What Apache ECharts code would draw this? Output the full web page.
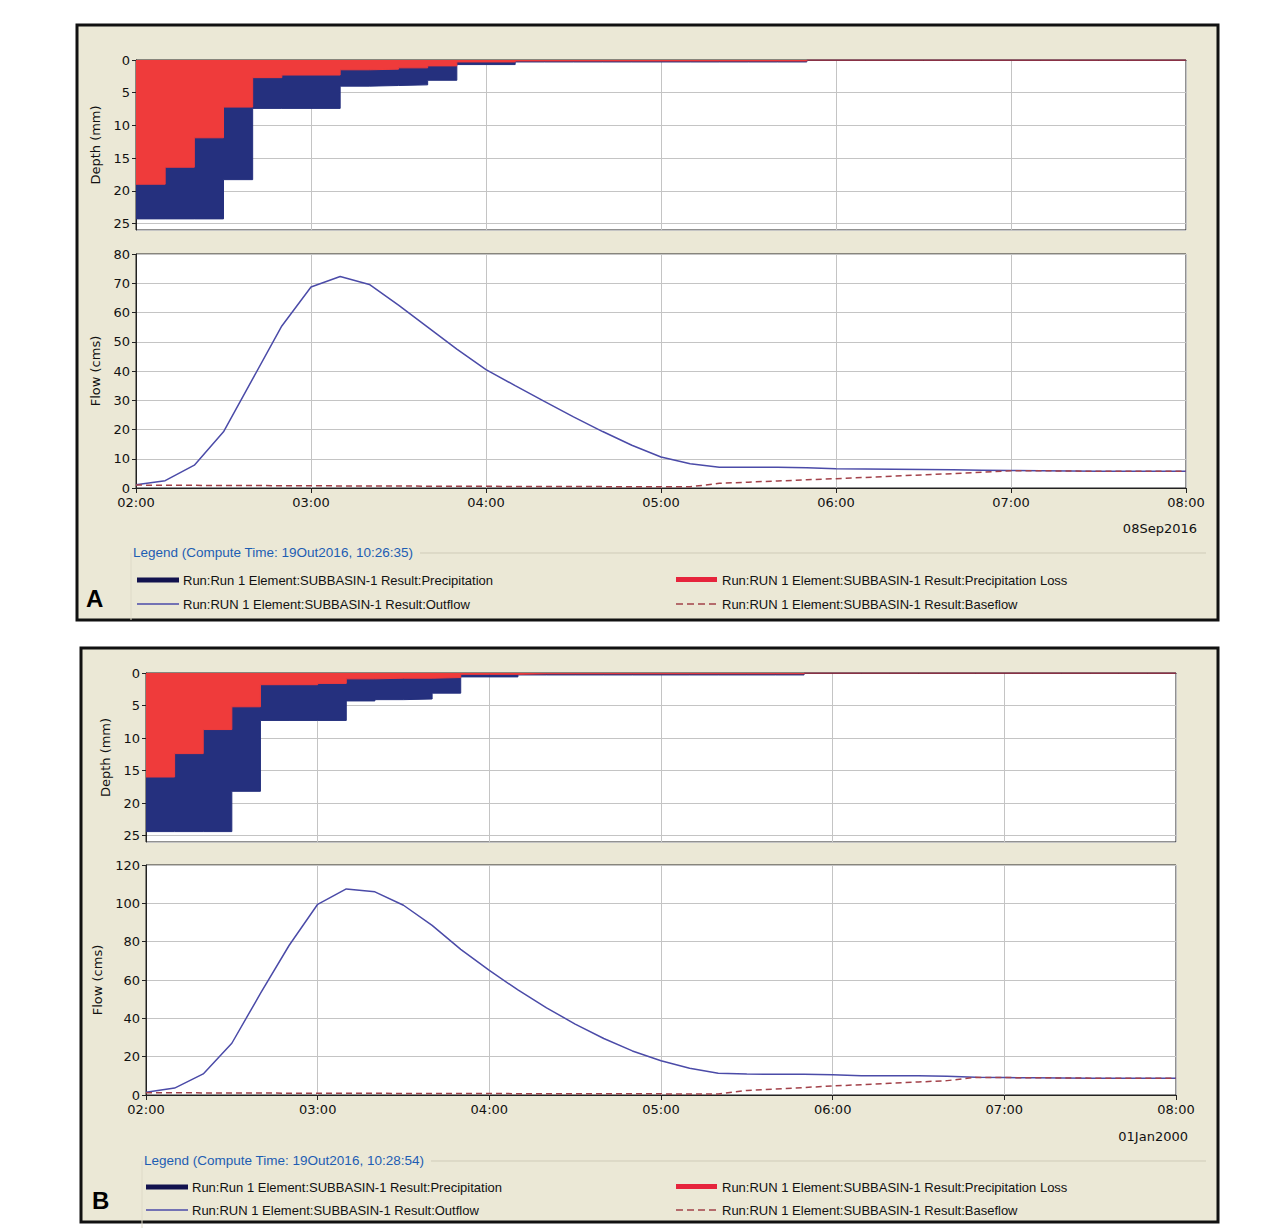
<!DOCTYPE html>
<html>
<head>
<meta charset="utf-8">
<script src="https://cdn.jsdelivr.net/npm/echarts@6.0.0/dist/echarts.min.js"></script>
<style>
html,body{margin:0;padding:0;background:#fff;}
#c{width:1282px;height:1231px;}
</style>
</head>
<body>
<div id="c"></div>
<script>
// ---- data ----
const times = ['02:00','02:10','02:20','02:30','02:40','02:50','03:00','03:10','03:20','03:30','03:40','03:50',
  '04:00','04:10','04:20','04:30','04:40','04:50','05:00','05:10','05:20','05:30','05:40','05:50',
  '06:00','06:10','06:20','06:30','06:40','06:50','07:00','07:10','07:20','07:30','07:40','07:50','08:00'];
const xTicks = ['02:00','03:00','04:00','05:00','06:00','07:00','08:00'];

// precipitation per 10-min interval (interval start = times[i]), mm
const precipA = [24.3,24.3,24.3,18.3,7.4,7.4,7.4,4.0,3.9,3.8,3.1,0.7,0.7,0.3,0.3,0.3,0.3,0.3,0.3,0.3,0.3,0.3,0.3,0,0,0,0,0,0,0,0,0,0,0,0,0];
const lossA   = [19.0,16.4,11.9,7.2,2.7,2.3,2.3,1.5,1.4,1.2,0.9,0.3,0.3,0.15,0.15,0.15,0.15,0.15,0.15,0.15,0.15,0.15,0.15,0,0,0,0,0,0,0,0,0,0,0,0,0];
const outflowA = [1.1,2.5,7.8,19.2,37.3,55.4,68.7,72.3,69.6,62.5,55.0,47.5,40.5,35.0,29.6,24.3,19.3,14.6,10.6,8.3,7.1,7.1,7.1,6.9,6.6,6.5,6.4,6.3,6.2,6.1,6.0,5.9,5.8,5.7,5.7,5.7,5.7];
const baseflowA = [1.0,0.95,0.9,0.87,0.83,0.8,0.76,0.72,0.69,0.66,0.63,0.6,0.57,0.54,0.52,0.5,0.47,0.45,0.43,0.41,1.6,2.0,2.4,2.8,3.2,3.6,4.1,4.5,4.9,5.4,5.9,5.9,5.8,5.7,5.7,5.7,5.7];

const precipB = [24.4,24.4,24.4,18.2,7.3,7.3,7.3,4.3,4.1,4.0,3.1,0.6,0.6,0.3,0.3,0.3,0.3,0.3,0.3,0.3,0.3,0.3,0.3,0,0,0,0,0,0,0,0,0,0,0,0,0];
const lossB   = [16.0,12.4,8.7,5.2,1.8,1.8,1.6,0.9,0.8,0.8,0.7,0.2,0.2,0.12,0.12,0.12,0.12,0.12,0.12,0.12,0.12,0.12,0.12,0,0,0,0,0,0,0,0,0,0,0,0,0];
const outflowB = [1.4,3.6,11.0,27.0,53.0,78.0,99.5,107.5,106.0,99.0,88.5,76.0,65.0,54.8,45.5,37.0,29.5,23.0,17.9,14.0,11.3,10.9,10.8,10.8,10.6,10.1,10.0,10.0,9.8,9.2,9.1,9.0,8.9,8.8,8.8,8.7,8.7];
const baseflowB = [1.2,1.15,1.1,1.05,1.0,0.97,0.93,0.9,0.86,0.83,0.8,0.77,0.74,0.71,0.68,0.66,0.63,0.61,0.59,0.57,0.55,2.4,3.1,3.9,4.7,5.4,6.1,6.8,7.5,9.2,9.1,9.0,8.9,8.8,8.8,8.7,8.7];

const depthTicksMax = 26;
const flowMaxA = 80, flowMaxB = 120;

// ---- helpers ----
function toMin(s){ const p = s.split(':'); return (+p[0])*60 + (+p[1]); }
function fmt(v){ const h = Math.floor(v/60), m = v%60; return String(h).padStart(2,'0')+':'+String(m).padStart(2,'0'); }
function stepData(vals){ const d = vals.map((v,i)=>[toMin(times[i]), v]); d.push([toMin(times[times.length-1]), 0]); return d; }
function lineData(vals){ return vals.map((v,i)=>[toMin(times[i]), v]); }

const FONT = 'DejaVu Sans';
const LFONT = 'Liberation Sans';
const tMin = toMin(xTicks[0]), tMax = toMin(xTicks[xTicks.length-1]);

const C_PRE = '#25307e', C_LOSS = '#ef3b3b', C_OUT = '#4b4ba8', C_BASE = '#a3424a';

function xAxisCfg(gi, labels){
  return {
    type:'value', gridIndex:gi, min:tMin, max:tMax, interval:60,
    axisLine:{show:true, lineStyle:{color:'#222', width:1}},
    axisTick:{show:labels, length:5, lineStyle:{color:'#222'}},
    axisLabel:{show:labels, formatter:fmt, fontFamily:FONT, fontSize:13, color:'#111', margin:8},
    splitLine:{show:true, lineStyle:{color:'#c4c4c4', width:1}}
  };
}
function yAxisCfg(gi, name, max, interval, inverse){
  return {
    type:'value', gridIndex:gi, min:0, max:max, interval:interval, inverse:inverse,
    name:name, nameLocation:'middle', nameGap:34, nameRotate:90,
    nameTextStyle:{fontFamily:FONT, fontSize:13, color:'#111'},
    axisLine:{show:true, lineStyle:{color:'#222', width:1}},
    axisTick:{show:true, length:4, lineStyle:{color:'#222'}},
    axisLabel:{fontFamily:FONT, fontSize:13, color:'#111', margin:6, showMaxLabel: inverse ? false : true},
    splitLine:{show:true, lineStyle:{color:'#c4c4c4', width:1}}
  };
}
function stepSeries(xi, vals, color, z){
  return {type:'line', xAxisIndex:xi, yAxisIndex:xi, step:'end', data:stepData(vals), symbol:'none',
    lineStyle:{color:color, width:1}, areaStyle:{color:color, opacity:1}, z:z, silent:true, animation:false};
}
function flowSeries(xi, vals, color, dashed, z){
  return {type:'line', xAxisIndex:xi, yAxisIndex:xi, data:lineData(vals), symbol:'none',
    lineStyle:{color:color, width:1.5, type: dashed ? [6,4] : 'solid'}, z:z, silent:true, animation:false};
}

function legendBlock(ox, oy, titleText){
  const els = [];
  els.push({type:'line', shape:{x1:ox+287, y1:oy+1, x2:1206, y2:oy+1}, style:{stroke:'#cfcbb8', lineWidth:1}, z:5});
  els.push({type:'line', shape:{x1:ox-2, y1:oy+1, x2:ox-2, y2:oy+68}, style:{stroke:'#dedac8', lineWidth:1}, z:5});
  els.push({type:'text', x:ox, y:oy, style:{text:titleText, font:'13.5px "'+LFONT+'"', fill:'#1d5db3', textVerticalAlign:'middle'}, z:10});
  return els;
}

const graphics = [
  // frames
  {type:'rect', shape:{x:77, y:25, width:1141, height:595}, style:{fill:'#ebe8d6', stroke:'#111', lineWidth:3}, z:-10},
  {type:'rect', shape:{x:81, y:648, width:1137, height:574}, style:{fill:'#ebe8d6', stroke:'#111', lineWidth:3}, z:-10},
  // date labels
  {type:'text', x:1197, y:528, style:{text:'08Sep2016', font:'13px "'+FONT+'"', fill:'#111', textAlign:'right', textVerticalAlign:'middle'}, z:10},
  {type:'text', x:1188, y:1136, style:{text:'01Jan2000', font:'13px "'+FONT+'"', fill:'#111', textAlign:'right', textVerticalAlign:'middle'}, z:10},
  // panel letters
  {type:'text', x:86, y:598, style:{text:'A', font:'bold 24px "'+LFONT+'"', fill:'#000', textVerticalAlign:'middle'}, z:10},
  {type:'text', x:92, y:1200, style:{text:'B', font:'bold 24px "'+LFONT+'"', fill:'#000', textVerticalAlign:'middle'}, z:10},
];

function legendItems(title, tx, ty, lx, rx, r1, r2){
  const g = legendBlock(tx, ty, title);
  const tf = '13px "'+LFONT+'"';
  g.push({type:'rect', shape:{x:lx, y:r1-2.5, width:42, height:5}, style:{fill:'#12124e'}, z:10});
  g.push({type:'text', x:lx+46, y:r1, style:{text:'Run:Run 1 Element:SUBBASIN-1 Result:Precipitation', font:tf, fill:'#111', textVerticalAlign:'middle'}, z:10});
  g.push({type:'line', shape:{x1:lx, y1:r2, x2:lx+42, y2:r2}, style:{stroke:C_OUT, lineWidth:1.5}, z:10});
  g.push({type:'text', x:lx+46, y:r2, style:{text:'Run:RUN 1 Element:SUBBASIN-1 Result:Outflow', font:tf, fill:'#111', textVerticalAlign:'middle'}, z:10});
  g.push({type:'rect', shape:{x:rx, y:r1-3, width:41, height:5}, style:{fill:'#e6243c'}, z:10});
  g.push({type:'text', x:rx+46, y:r1, style:{text:'Run:RUN 1 Element:SUBBASIN-1 Result:Precipitation Loss', font:tf, fill:'#111', textVerticalAlign:'middle'}, z:10});
  g.push({type:'line', shape:{x1:rx, y1:r2, x2:rx+41, y2:r2}, style:{stroke:C_BASE, lineWidth:1.5, lineDash:[7,4]}, z:10});
  g.push({type:'text', x:rx+46, y:r2, style:{text:'Run:RUN 1 Element:SUBBASIN-1 Result:Baseflow', font:tf, fill:'#111', textVerticalAlign:'middle'}, z:10});
  return g;
}
graphics.push(...legendItems('Legend (Compute Time: 19Out2016, 10:26:35)', 133, 552, 137, 676, 580, 604));
graphics.push(...legendItems('Legend (Compute Time: 19Out2016, 10:28:54)', 144, 1160, 146, 676, 1187, 1210));

const gridStyle = {show:true, backgroundColor:'#ffffff', borderColor:'#222', borderWidth:1, containLabel:false};

const option = {
  animation:false,
  backgroundColor:'#ffffff',
  grid:[
    Object.assign({left:136, top:60, width:1050, height:170}, gridStyle),
    Object.assign({left:136, top:254, width:1050, height:234}, gridStyle),
    Object.assign({left:146, top:673, width:1030, height:169}, gridStyle),
    Object.assign({left:146, top:865, width:1030, height:230}, gridStyle)
  ],
  xAxis:[xAxisCfg(0,false), xAxisCfg(1,true), xAxisCfg(2,false), xAxisCfg(3,true)],
  yAxis:[
    yAxisCfg(0,'Depth (mm)',depthTicksMax,5,true),
    yAxisCfg(1,'Flow (cms)',flowMaxA,10,false),
    yAxisCfg(2,'Depth (mm)',depthTicksMax,5,true),
    yAxisCfg(3,'Flow (cms)',flowMaxB,20,false)
  ],
  series:[
    stepSeries(0, precipA, C_PRE, 2),
    stepSeries(0, lossA, C_LOSS, 3),
    flowSeries(1, outflowA, C_OUT, false, 2),
    flowSeries(1, baseflowA, C_BASE, true, 3),
    stepSeries(2, precipB, C_PRE, 2),
    stepSeries(2, lossB, C_LOSS, 3),
    flowSeries(3, outflowB, C_OUT, false, 2),
    flowSeries(3, baseflowB, C_BASE, true, 3)
  ],
  graphic:{elements:graphics}
};

const chart = echarts.init(document.getElementById('c'), null, {renderer:'svg', width:1282, height:1231});
chart.setOption(option);
</script>
</body>
</html>
